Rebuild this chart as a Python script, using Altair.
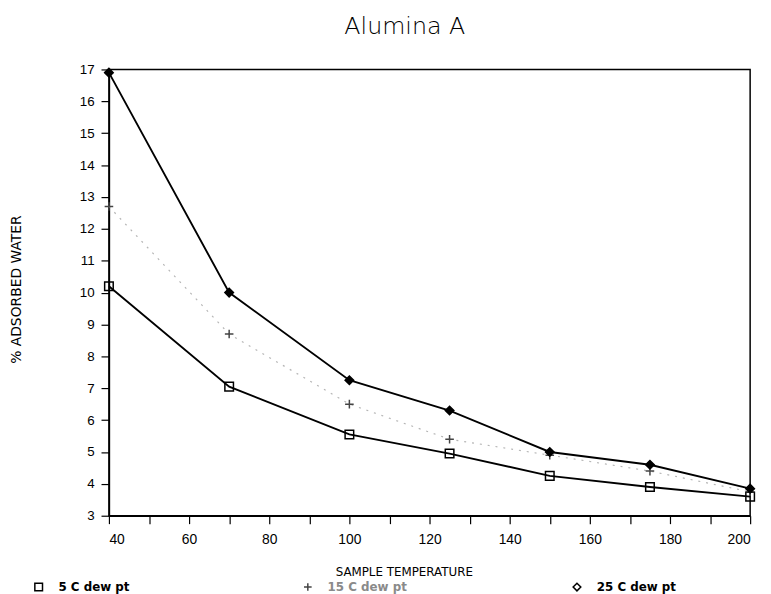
import altair as alt
import pandas as pd

temps = [40, 70, 100, 125, 150, 175, 200]
dew5 = [10.2, 7.05, 5.55, 4.95, 4.25, 3.9, 3.6]
dew15 = [12.7, 8.7, 6.5, 5.4, 4.9, 4.4, 3.75]
dew25 = [16.9, 10.0, 7.25, 6.3, 5.0, 4.6, 3.85]
series = ["5 C dew pt", "15 C dew pt", "25 C dew pt"]

rows = []
for name, vals in zip(series, [dew5, dew15, dew25]):
    for t, v in zip(temps, vals):
        rows.append({"temp": t, "value": v, "series": name})
df = pd.DataFrame(rows)

xenc = alt.X(
    "temp:Q",
    scale=alt.Scale(domain=[40, 200], nice=False, zero=False),
    axis=alt.Axis(
        grid=False,
        values=list(range(40, 201, 10)),
        labelExpr="datum.value % 20 == 0 ? datum.label : ''",
        title="SAMPLE TEMPERATURE",
        titleX=298, titleY=60, titleBaseline="alphabetic", titleAlign="center",
        titleFont="DejaVu Sans", titleFontSize=12, titleFontWeight="normal",
        labelFont="Liberation Sans", labelFontSize=14, labelPadding=9,
        tickSize=8,
    ),
)
yenc = alt.Y(
    "value:Q",
    scale=alt.Scale(domain=[3, 17], nice=False, zero=False),
    axis=alt.Axis(
        grid=False,
        values=list(range(3, 18)),
        title="% ADSORBED WATER",
        titleX=-89, titleY=222, titleBaseline="alphabetic", titleAlign="center",
        titleFont="DejaVu Sans", titleFontSize=14, titleFontWeight="normal",
        labelFont="Liberation Sans", labelFontSize=13.5, labelPadding=7,
        tickSize=8,
    ),
)

base = alt.Chart(df)

solid_lines = base.transform_filter(
    alt.FieldOneOfPredicate(field="series", oneOf=["5 C dew pt", "25 C dew pt"])
).mark_line(color="black", strokeWidth=1.9).encode(x=xenc, y=yenc, detail="series:N")

faint_line = base.transform_filter(
    alt.FieldEqualPredicate(field="series", equal="15 C dew pt")
).mark_line(color="#b5b5b5", strokeWidth=1.2, strokeDash=[2, 6]).encode(x=xenc, y=yenc)

legend = alt.Legend(
    orient="none", legendX=-77, legendY=517, direction="horizontal",
    title=None, columnPadding=164, gridAlign="all",
    labelFont="DejaVu Sans", labelFontSize=12, labelFontWeight="bold",
    labelOffset=14, symbolSize=60, symbolStrokeWidth=1.5,
    symbolFillColor="transparent",
    labelColor={"expr": "datum.label == '15 C dew pt' ? '#8a8a8a' : 'black'"},
)

points = base.mark_point(filled=False, size=75, strokeWidth=1.5, opacity=1).encode(
    x=xenc, y=yenc,
    shape=alt.Shape("series:N", scale=alt.Scale(domain=series, range=["square", "M-1,0H1M0,-1V1", "diamond"]), legend=legend),
    color=alt.Color("series:N", scale=alt.Scale(domain=series, range=["black", "#444444", "black"]), legend=legend),
)

filled_diamonds = base.transform_filter(
    alt.FieldEqualPredicate(field="series", equal="25 C dew pt")
).mark_point(filled=True, shape="diamond", size=75, color="black", opacity=1).encode(x=xenc, y=yenc)

chart = alt.layer(faint_line, solid_lines, points, filled_diamonds).properties(
    width=648, height=451,
    background="white",
    autosize=alt.AutoSizeParams(type="none"),
    padding={"left": 102, "top": 59, "right": 13, "bottom": 76},
    title=alt.Title(
        "Alumina A", font="DejaVu Sans", fontSize=24, fontWeight=200, color="black",
        anchor="middle", frame="group", offset=24, dx=-25,
    ),
).configure_view(stroke="black", strokeWidth=1.5).configure_axis(
    grid=False, domainColor="black", domainWidth=1.5, tickColor="black", tickWidth=1.2,
    labelColor="black", titleColor="black",
)

chart.save("out.html", embed_options={"renderer": "svg", "actions": False})
